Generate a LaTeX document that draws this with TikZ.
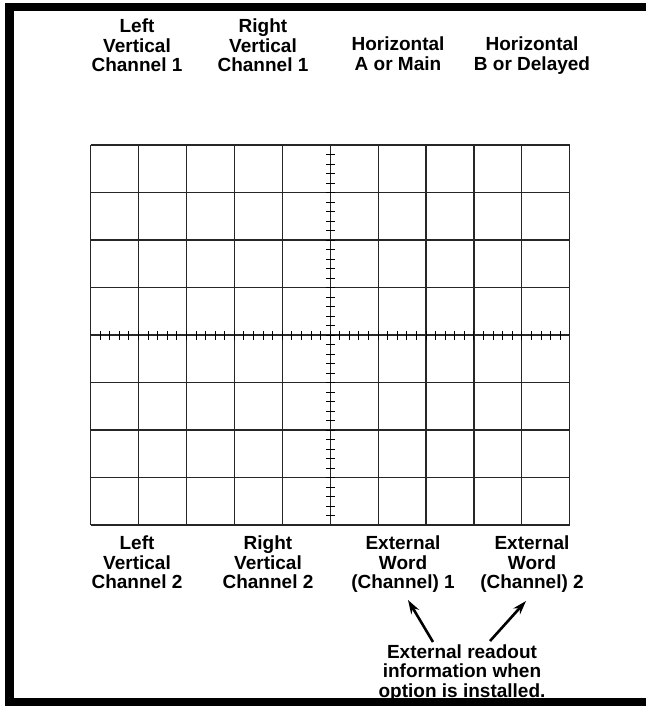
\documentclass[tikz,border=0pt]{standalone}
\usepackage{fontspec}
\setmainfont{Liberation Sans}
\usetikzlibrary{positioning,arrows.meta,calc}

\begin{document}
\begin{tikzpicture}[
    x=1pt, y=-1pt,
    chlabel/.style={
      align=center,
      anchor=north,
      font=\bfseries\fontsize{19}{19.5}\selectfont,
      inner sep=0pt
    },
    gridline/.style={
      line width=1.1pt,
      black!85
    },
    axistick/.style={
      line width=1pt
    },
    framebar/.style={
      line width=8.5pt,
      line join=miter
    },
    readarrow/.style={
      -{Stealth[length=14pt,width=9pt]},
      line width=2.6pt
    }
  ]
  \useasboundingbox (0,0) rectangle (646,706);

  % Rahmen (rechts offen)
  \draw[framebar] (646,7) -- (9.5,7) -- (9.5,702) -- (646,702);

  % Raster 10 x 8
  \foreach \i in {0,...,10}
    \draw[gridline] (90.6+\i*47.92,145) -- (90.6+\i*47.92,525);
  \foreach \j in {0,...,8}
    \draw[gridline] (90.6,145+\j*47.5) -- (569.8,145+\j*47.5);

  % Teilstriche auf den Achsen
  \foreach \k in {1,...,39}
    \draw[axistick] (325.8,145+\k*9.5) -- (334.8,145+\k*9.5);
  \foreach \k in {1,...,49}
    \draw[axistick] (90.6+\k*9.584,330.5) -- (90.6+\k*9.584,339.5);

  % obere Beschriftung
  \node[chlabel] (lvone) at (137,19) {Left\\Vertical\\Channel 1};
  \node[chlabel] (rvone) at (263,19) {Right\\Vertical\\Channel 1};
  \node[chlabel] (horA) at (398,37) {Horizontal\\A or Main};
  \node[chlabel] (horB) at (532,37) {Horizontal\\B or Delayed};

  % untere Beschriftung
  \node[chlabel] (lvtwo) at (137,536) {Left\\Vertical\\Channel 2};
  \node[chlabel] (rvtwo) at (268,536) {Right\\Vertical\\Channel 2};
  \node[chlabel] (extone) at (403,536) {External\\Word\\(Channel) 1};
  \node[chlabel] (exttwo) at (532,536) {External\\Word\\(Channel) 2};

  % Hinweis mit Pfeilen
  \node[chlabel] (readout) at (462,644.5) {External readout\\information when\\option is installed.};
  \coordinate (tailA) at (433,642);
  \coordinate (tipA) at (408,600);
  \coordinate (tailB) at (490,641);
  \coordinate (tipB) at (526,601);
  \draw[readarrow] (tailA) -- (tipA);
  \draw[readarrow] (tailB) -- (tipB);
\end{tikzpicture}
\end{document}
